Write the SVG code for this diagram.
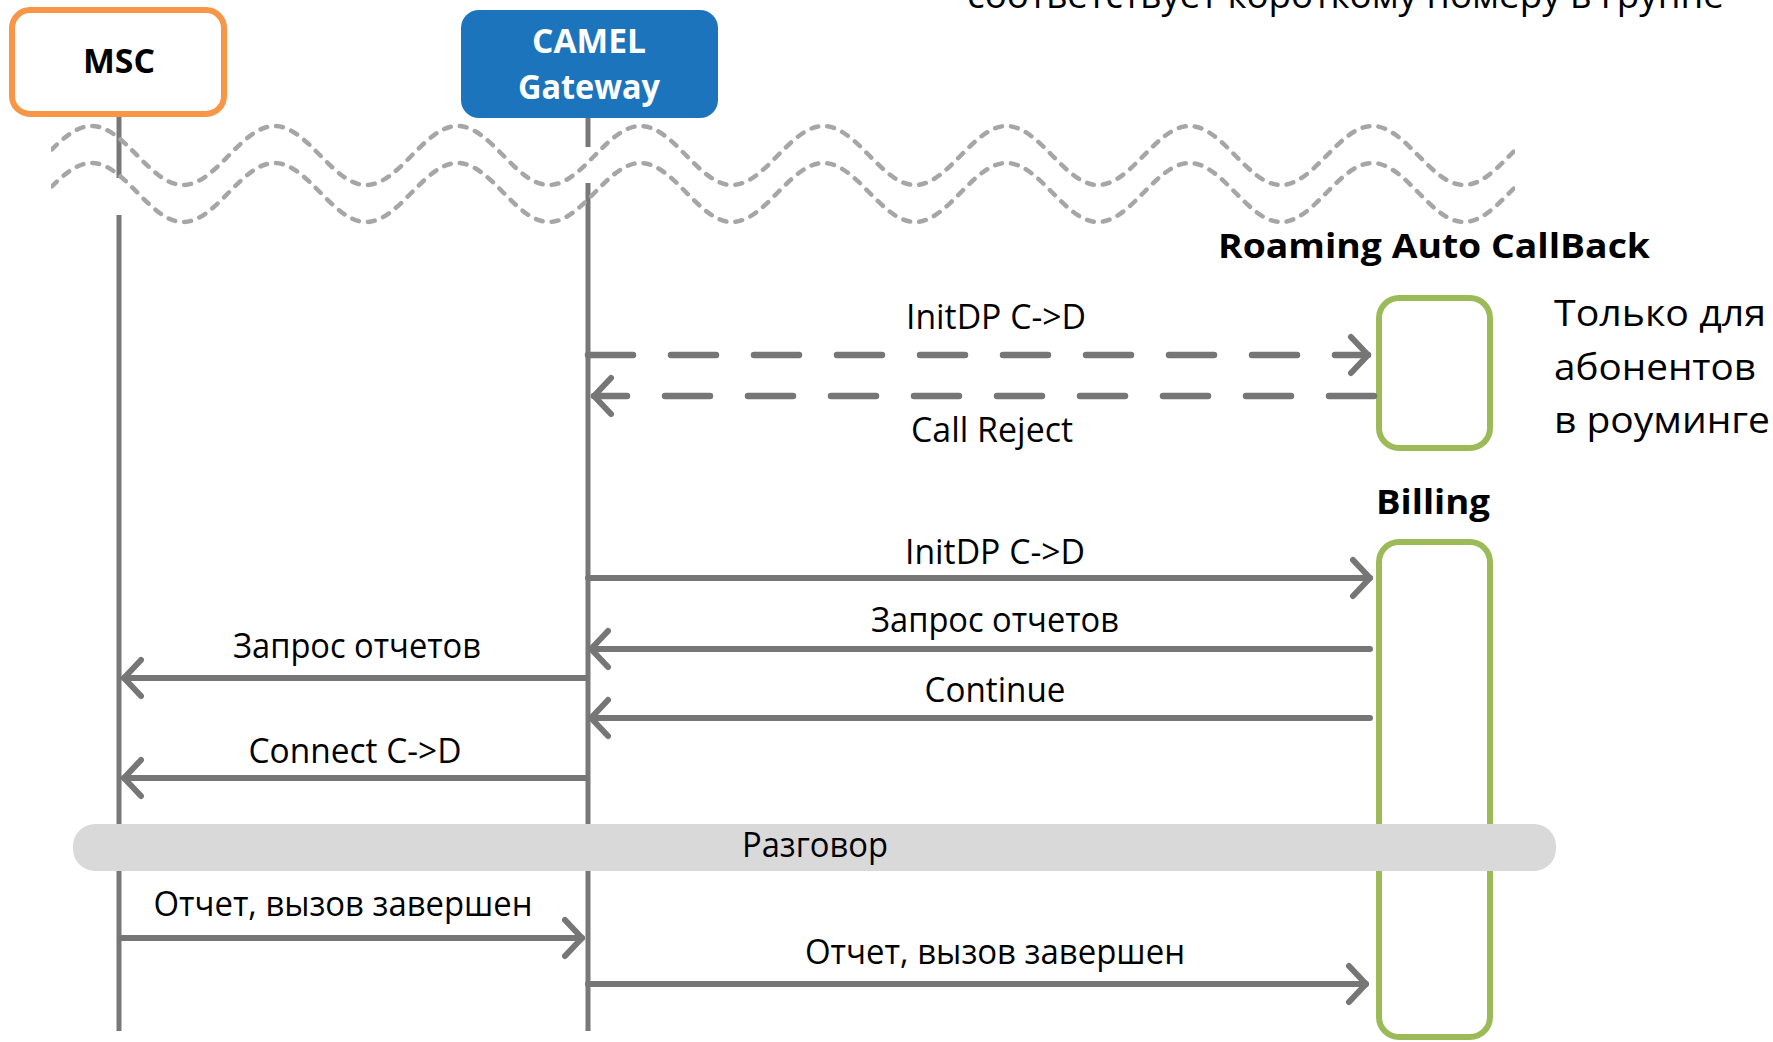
<svg xmlns="http://www.w3.org/2000/svg" xmlns:xlink="http://www.w3.org/1999/xlink" width="1773" height="1042" viewBox="0 0 1773 1042">
<style>
text{font-family:"Open Sans","Liberation Sans",sans-serif;fill:#000;}
.lbl{font-size:34px;text-anchor:middle;}
.b{font-weight:bold;}
.life{stroke:#787878;stroke-width:5;fill:none;}
.msg{stroke:#767676;stroke-width:6;fill:none;stroke-linecap:round;}
.dash{stroke-dasharray:45 38;stroke-width:6.5;}
.wave{stroke:#A6A6A6;stroke-width:4.5;fill:none;stroke-dasharray:7 9;stroke-linecap:round;}
.grn{fill:#fff;stroke:#9BBB59;stroke-width:6;}
</style>
<defs>
<marker id="ah" markerUnits="userSpaceOnUse" markerWidth="40" markerHeight="44" refX="20" refY="22" orient="auto-start-reverse" overflow="visible">
<path d="M3,4 L20,22 L3,40" fill="none" stroke="#767676" stroke-width="6" stroke-linecap="round" stroke-linejoin="round"/>
</marker>
<clipPath id="wc"><rect x="51" y="100" width="1464" height="140"/></clipPath>
<path id="wv" d="M-91.5,126 c33.3,0 58.2,59 91.5,59 s58.2,-59 91.5,-59 s58.2,59 91.5,59 s58.2,-59 91.5,-59 s58.2,59 91.5,59 s58.2,-59 91.5,-59 s58.2,59 91.5,59 s58.2,-59 91.5,-59 s58.2,59 91.5,59 s58.2,-59 91.5,-59 s58.2,59 91.5,59 s58.2,-59 91.5,-59 s58.2,59 91.5,59 s58.2,-59 91.5,-59 s58.2,59 91.5,59 s58.2,-59 91.5,-59 s58.2,59 91.5,59 s58.2,-59 91.5,-59 s58.2,59 91.5,59 s58.2,-59 91.5,-59"/>
</defs>
<rect width="1773" height="1042" fill="#fff"/>

<text x="967" y="8" font-size="36" textLength="757" lengthAdjust="spacingAndGlyphs">соответствует короткому номеру в группе</text>

<g id="lifelines">
<line class="life" x1="119" y1="115" x2="119" y2="178"/>
<line class="life" x1="119" y1="215" x2="119" y2="1031"/>
<line class="life" x1="588" y1="118" x2="588" y2="147"/>
<line class="life" x1="588" y1="183" x2="588" y2="1031"/>
</g>

<g id="break" clip-path="url(#wc)">
<use xlink:href="#wv" class="wave"/>
<use xlink:href="#wv" class="wave" transform="translate(0,37)"/>
</g>

<g id="msc">
<rect x="12" y="10" width="212" height="104" rx="18" fill="#fff" stroke="#F79646" stroke-width="6"/>
<text class="lbl b" x="119" y="73" font-size="33" textLength="72" lengthAdjust="spacingAndGlyphs">MSC</text>
</g>

<g id="camel">
<rect x="461" y="10" width="257" height="108" rx="18" fill="#1C75BC"/>
<text class="lbl b" x="589" y="53" font-size="32" style="fill:#fff" textLength="114" lengthAdjust="spacingAndGlyphs">CAMEL</text>
<text class="lbl b" x="589" y="99" font-size="32" style="fill:#fff" textLength="142" lengthAdjust="spacingAndGlyphs">Gateway</text>
</g>

<g id="roaming">
<text class="lbl b" x="1434" y="258" font-size="36" textLength="432" lengthAdjust="spacingAndGlyphs">Roaming Auto CallBack</text>
<rect class="grn" x="1379" y="298" width="111" height="150" rx="20"/>
</g>

<g id="note">
<text x="1554" y="326" font-size="36" textLength="212" lengthAdjust="spacingAndGlyphs">Только для</text>
<text x="1554" y="380" font-size="36" textLength="202" lengthAdjust="spacingAndGlyphs">абонентов</text>
<text x="1554" y="433" font-size="36" textLength="216" lengthAdjust="spacingAndGlyphs">в роуминге</text>
</g>

<g id="billing">
<text class="lbl b" x="1433" y="514" font-size="36" textLength="114" lengthAdjust="spacingAndGlyphs">Billing</text>
<rect class="grn" x="1379" y="542" width="111" height="495" rx="20"/>
</g>

<g id="connectors">
<line class="msg dash" x1="588" y1="355" x2="1368" y2="355" marker-end="url(#ah)"/>
<line class="msg dash" x1="1374" y1="396" x2="594" y2="396" marker-end="url(#ah)"/>
<line class="msg" x1="588" y1="578" x2="1370" y2="578" marker-end="url(#ah)"/>
<line class="msg" x1="1370" y1="649" x2="591" y2="649" marker-end="url(#ah)"/>
<line class="msg" x1="1370" y1="718" x2="591" y2="718" marker-end="url(#ah)"/>
<line class="msg" x1="586" y1="678" x2="124" y2="678" marker-end="url(#ah)"/>
<line class="msg" x1="586" y1="778" x2="124" y2="778" marker-end="url(#ah)"/>
<line class="msg" x1="122" y1="938" x2="582" y2="938" marker-end="url(#ah)"/>
<line class="msg" x1="588" y1="984" x2="1366" y2="984" marker-end="url(#ah)"/>
</g>

<g id="labels">
<text class="lbl" x="996" y="329" textLength="180" lengthAdjust="spacingAndGlyphs">InitDP C-&gt;D</text>
<text class="lbl" x="992" y="442" textLength="162" lengthAdjust="spacingAndGlyphs">Call Reject</text>
<text class="lbl" x="995" y="564" textLength="180" lengthAdjust="spacingAndGlyphs">InitDP C-&gt;D</text>
<text class="lbl" x="995" y="632" textLength="248" lengthAdjust="spacingAndGlyphs">Запрос отчетов</text>
<text class="lbl" x="995" y="702" textLength="141" lengthAdjust="spacingAndGlyphs">Continue</text>
<text class="lbl" x="357" y="658" textLength="248" lengthAdjust="spacingAndGlyphs">Запрос отчетов</text>
<text class="lbl" x="355" y="763" textLength="213" lengthAdjust="spacingAndGlyphs">Connect C-&gt;D</text>
<text class="lbl" x="343" y="916" textLength="379" lengthAdjust="spacingAndGlyphs">Отчет, вызов завершен</text>
<text class="lbl" x="995" y="964" textLength="380" lengthAdjust="spacingAndGlyphs">Отчет, вызов завершен</text>
</g>

<g id="talk">
<rect x="73" y="824" width="1483" height="47" rx="22" fill="#D9D9D9"/>
<text class="lbl" x="815" y="857" textLength="146" lengthAdjust="spacingAndGlyphs">Разговор</text>
</g>
</svg>
